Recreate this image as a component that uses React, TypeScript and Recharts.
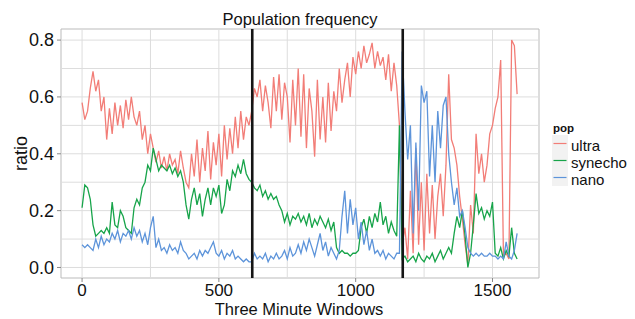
import React from 'react';
import { LineChart, Line, XAxis, YAxis, ReferenceLine, ReferenceArea } from 'recharts';

const ultra = [
  0.58, 0.52, 0.55, 0.63, 0.69, 0.62, 0.66, 0.55, 0.60, 0.45,
  0.56, 0.47, 0.58, 0.50, 0.57, 0.49, 0.59, 0.52, 0.60, 0.53,
  0.50, 0.55, 0.45, 0.50, 0.40, 0.47, 0.42, 0.37, 0.41, 0.35,
  0.39, 0.34, 0.40, 0.36, 0.38, 0.33, 0.41, 0.35, 0.30, 0.28,
  0.40, 0.32, 0.45, 0.30, 0.42, 0.34, 0.48, 0.31, 0.44, 0.36,
  0.47, 0.32, 0.50, 0.38, 0.49, 0.40, 0.53, 0.42, 0.55, 0.45,
  0.53, 0.50, 0.55, 0.63, 0.60, 0.66, 0.55, 0.64, 0.58, 0.49,
  0.67, 0.55, 0.68, 0.52, 0.65, 0.60, 0.44, 0.66, 0.50, 0.70,
  0.46, 0.68, 0.42, 0.63, 0.55, 0.39, 0.66, 0.45, 0.60, 0.44,
  0.65, 0.48, 0.62, 0.55, 0.70, 0.58, 0.66, 0.72, 0.60, 0.74,
  0.68, 0.76, 0.70, 0.78, 0.72, 0.75, 0.79, 0.70, 0.76, 0.71,
  0.74, 0.66, 0.75, 0.62, 0.72, 0.64, 0.50, 0.08, 0.14, 0.03,
  0.27, 0.05, 0.42, 0.08, 0.30, 0.06, 0.33, 0.12, 0.29, 0.10,
  0.25, 0.33, 0.18, 0.36, 0.68, 0.45, 0.42, 0.36, 0.25, 0.17,
  0.08, 0.01, 0.22, 0.12, 0.47, 0.33, 0.40, 0.30, 0.36, 0.47,
  0.50, 0.56, 0.60, 0.73, 0.04, 0.05, 0.03, 0.80, 0.78, 0.61,
];

const synecho = [
  0.21, 0.29, 0.28, 0.24, 0.15, 0.11, 0.12, 0.13, 0.12, 0.14,
  0.12, 0.23, 0.15, 0.14, 0.20, 0.18, 0.14, 0.13, 0.12, 0.21,
  0.24, 0.22, 0.28, 0.30, 0.36, 0.34, 0.42, 0.38, 0.34, 0.36,
  0.35, 0.34, 0.36, 0.33, 0.35, 0.32, 0.34, 0.30, 0.22, 0.17,
  0.24, 0.28, 0.22, 0.26, 0.18, 0.24, 0.28, 0.22, 0.28, 0.25,
  0.29, 0.19, 0.22, 0.31, 0.27, 0.34, 0.32, 0.36, 0.33, 0.38,
  0.33, 0.31, 0.30, 0.28, 0.27, 0.29, 0.25, 0.27, 0.24, 0.26,
  0.24, 0.25, 0.22, 0.20, 0.16, 0.19, 0.15, 0.18, 0.17, 0.19,
  0.16, 0.18, 0.15, 0.19, 0.14, 0.17, 0.15, 0.18, 0.16, 0.14,
  0.17, 0.13, 0.16, 0.07, 0.05, 0.06, 0.05, 0.05, 0.04, 0.05,
  0.05, 0.06, 0.14, 0.17, 0.12, 0.18, 0.14, 0.19, 0.16, 0.23,
  0.15, 0.18, 0.12, 0.16, 0.13, 0.11, 0.50, 0.03, 0.04, 0.02,
  0.03, 0.04, 0.02, 0.05, 0.03, 0.02, 0.04, 0.03, 0.05, 0.02,
  0.04, 0.06, 0.03, 0.05, 0.07, 0.05, 0.12, 0.18, 0.14, 0.20,
  0.11, 0.00, 0.05, 0.15, 0.26, 0.19, 0.21, 0.17, 0.20, 0.18,
  0.23, 0.05, 0.04, 0.07, 0.03, 0.06, 0.04, 0.14, 0.05, 0.03,
];

const nano = [
  0.08, 0.07, 0.08, 0.07, 0.06, 0.10, 0.07, 0.11, 0.08, 0.10,
  0.09, 0.12, 0.10, 0.13, 0.09, 0.12, 0.11, 0.13, 0.10, 0.14,
  0.11, 0.13, 0.09, 0.12, 0.08, 0.14, 0.18, 0.07, 0.10, 0.06,
  0.07, 0.05, 0.08, 0.06, 0.07, 0.05, 0.09, 0.06, 0.05, 0.03,
  0.04, 0.05, 0.03, 0.06, 0.04, 0.06, 0.05, 0.07, 0.09, 0.05,
  0.04, 0.06, 0.03, 0.05, 0.04, 0.06, 0.03, 0.04, 0.03, 0.02,
  0.03, 0.02, 0.02, 0.05, 0.03, 0.04, 0.03, 0.05, 0.02, 0.04,
  0.03, 0.05, 0.03, 0.04, 0.06, 0.03, 0.07, 0.04, 0.05, 0.08,
  0.05, 0.09, 0.06, 0.10, 0.07, 0.04, 0.08, 0.12, 0.06, 0.09,
  0.04, 0.07, 0.05, 0.03, 0.06, 0.18, 0.27, 0.12, 0.24, 0.15,
  0.21, 0.10, 0.16, 0.08, 0.13, 0.06, 0.10, 0.05, 0.06, 0.04,
  0.06, 0.03, 0.05, 0.04, 0.03, 0.05, 0.05, 0.76, 0.55, 0.38,
  0.50, 0.12, 0.44, 0.20, 0.64, 0.58, 0.62, 0.32, 0.50, 0.30,
  0.55, 0.42, 0.57, 0.60, 0.40, 0.30, 0.22, 0.28, 0.18, 0.20,
  0.14, 0.07, 0.05, 0.04, 0.05, 0.04, 0.05, 0.04, 0.04, 0.05,
  0.04, 0.04, 0.03, 0.04, 0.03, 0.09, 0.04, 0.03, 0.06, 0.12,
];

const windowStep = 10;
const xTicks = [0, 500, 1000, 1500];
const yTicks = [0, 0.2, 0.4, 0.6, 0.8];
const xGrid = [0, 250, 500, 750, 1000, 1250, 1500];
const yGrid = [0, 0.1, 0.2, 0.3, 0.4, 0.5, 0.6, 0.7, 0.8];
const breakpoints = [622, 1172];
const seriesNames = ['ultra', 'synecho', 'nano'];
const seriesColors = ['#F27D77', '#17A44A', '#5D94DA'];

const rows = ultra.map((u, i) => ({
  w: i * windowStep,
  ultra: u,
  synecho: synecho[i],
  nano: nano[i],
}));

const FONT = '"Liberation Sans", Arial, Helvetica, sans-serif';
const X_DOMAIN: [number, number] = [-77, 1670];
const Y_DOMAIN: [number, number] = [-0.037, 0.839];

export default function App() {
  return (
    <div style={{ position: 'absolute', left: 0, top: 0, width: 635, height: 319, background: '#fff' }}>
      <LineChart
        width={635}
        height={319}
        data={rows}
        margin={{ top: 29, right: 96, bottom: 11, left: 21 }}
      >
        <XAxis
          dataKey="w"
          type="number"
          domain={X_DOMAIN}
          ticks={xTicks}
          interval={0}
          allowDataOverflow
          axisLine={false}
          tickLine={{ stroke: '#8a8a8a' }}
          tickSize={4}
          tickMargin={2}
          height={30}
          tick={{ fill: '#111', fontSize: 17, fontFamily: FONT }}
        />
        <YAxis
          type="number"
          domain={Y_DOMAIN}
          ticks={yTicks}
          interval={0}
          allowDataOverflow
          axisLine={false}
          tickLine={{ stroke: '#8a8a8a' }}
          tickSize={4}
          tickMargin={3}
          width={40}
          tickFormatter={(v: number) => v.toFixed(1)}
          tick={{ fill: '#111', fontSize: 18, fontFamily: FONT }}
        />
        <ReferenceArea
          x1={X_DOMAIN[0]}
          x2={X_DOMAIN[1]}
          y1={Y_DOMAIN[0]}
          y2={Y_DOMAIN[1]}
          fill="#ffffff"
          fillOpacity={1}
          stroke="none"
        />
        {xGrid.map((x) => (
          <ReferenceLine key={'gx' + x} x={x} stroke="#DDDDDD" strokeWidth={1} />
        ))}
        {yGrid.map((y) => (
          <ReferenceLine key={'gy' + y} y={y} stroke="#DDDDDD" strokeWidth={1} />
        ))}
        {seriesNames.map((name, i) => (
          <Line
            key={name}
            dataKey={name}
            type="linear"
            stroke={seriesColors[i]}
            strokeWidth={1.3}
            dot={false}
            activeDot={false}
            isAnimationActive={false}
          />
        ))}
        {breakpoints.map((b) => (
          <ReferenceLine key={'b' + b} x={b} stroke="#151515" strokeWidth={2.6} />
        ))}
        <ReferenceArea
          x1={X_DOMAIN[0]}
          x2={X_DOMAIN[1]}
          y1={Y_DOMAIN[0]}
          y2={Y_DOMAIN[1]}
          fill="none"
          stroke="#BBBBBB"
          strokeWidth={1}
        />
      </LineChart>
      <svg
        width={635}
        height={319}
        style={{ position: 'absolute', left: 0, top: 0, pointerEvents: 'none' }}
      >
        <text x={300} y={25} textAnchor="middle" fontSize={16.5} fill="#111" fontFamily={FONT}>
          Population frequency
        </text>
        <text x={299} y={315.3} textAnchor="middle" fontSize={16.5} fill="#111" fontFamily={FONT}>
          Three Minute Windows
        </text>
        <text
          x={0}
          y={0}
          transform="translate(27 153.5) rotate(-90)"
          textAnchor="middle"
          fontSize={18}
          fill="#111"
          fontFamily={FONT}
        >
          ratio
        </text>
        <text x={553} y={132} fontSize={11.5} fontWeight="bold" fill="#111" fontFamily={FONT}>
          pop
        </text>
        {seriesNames.map((name, i) => (
          <g key={name}>
            <rect x={552} y={135 + i * 17} width={16} height={17} fill="#F2F2F2" />
            <line
              x1={553.5}
              x2={566.5}
              y1={143.5 + i * 17}
              y2={143.5 + i * 17}
              stroke={seriesColors[i]}
              strokeWidth={1.2}
            />
            <text x={571} y={150.5 + i * 17} fontSize={15} fill="#111" fontFamily={FONT}>
              {name}
            </text>
          </g>
        ))}
      </svg>
    </div>
  );
}
